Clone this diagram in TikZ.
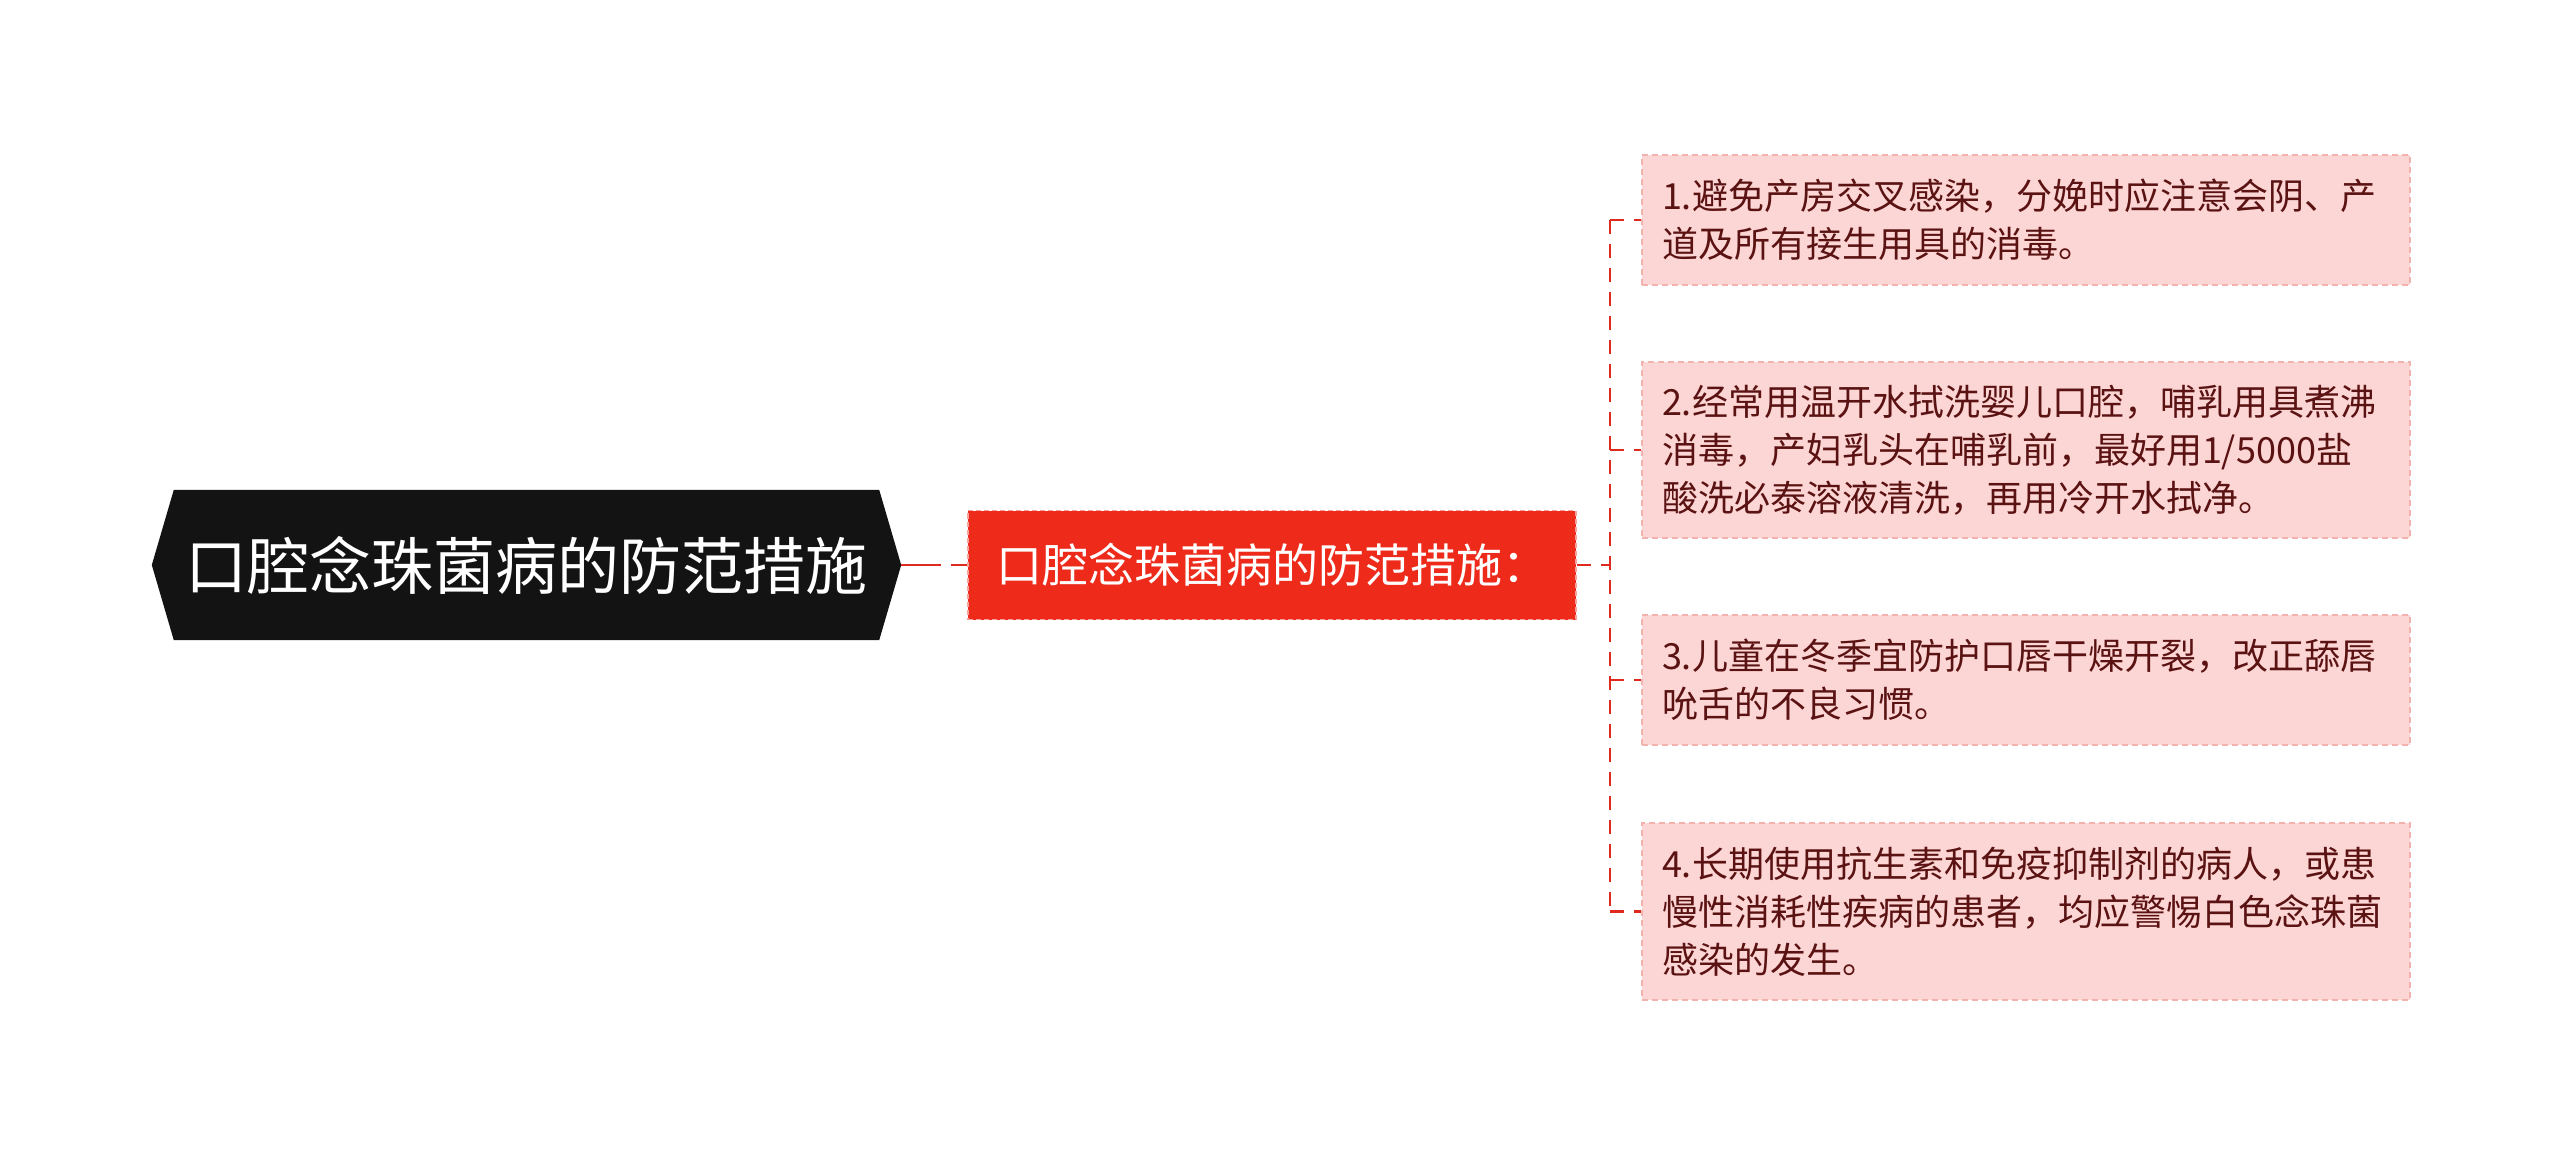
\documentclass[tikz,border=0pt]{standalone}
\usepackage{fontspec}
\newfontfamily\cjk{Noto Sans CJK SC}
\pgfdeclarelayer{bg}
\pgfsetlayers{bg,main}
\definecolor{rootbg}{HTML}{131313}
\definecolor{midred}{HTML}{EE2A1B}
\definecolor{midline}{HTML}{F7A39B}
\definecolor{leafbg}{HTML}{FCD6D4}
\definecolor{leafline}{HTML}{F2B3AF}
\definecolor{leaftext}{HTML}{5A1212}
\definecolor{conn}{HTML}{DE2A1F}
\tikzset{
  rootnode/.style={minimum width=749pt, minimum height=150pt, inner sep=0pt, text=white,
    font=\cjk\fontsize{62}{74}\selectfont},
  midnode/.style={minimum width=608pt, minimum height=109pt, inner sep=0pt, text=white,
    fill=midred, draw=midline, line width=1.5pt, dash pattern=on 5pt off 3pt,
    font=\cjk\fontsize{46}{56}\selectfont},
  leafnode/.style={minimum width=768pt, text width=728pt, inner xsep=20pt, inner ysep=0pt,
    align=left, fill=leafbg, draw=leafline, line width=1.5pt, dash pattern=on 6pt off 4pt,
    text=leaftext, font=\cjk\fontsize{36}{48}\selectfont},
  connline/.style={draw=conn, line width=2.5pt, dash pattern=on 14pt off 10pt}
}
\begin{document}
\begin{tikzpicture}[x=1pt,y=-1pt]
\useasboundingbox (0,0) rectangle (2560,1155);
\begin{pgfonlayer}{bg}
\fill[white] (0,0) rectangle (2560,1155);
\end{pgfonlayer}

\node[rootnode] (root) at (526.5,565) {口腔念珠菌病的防范措施};
\begin{pgfonlayer}{bg}
\fill[rootbg] (root.west) -- ([xshift=22pt]root.north west) -- ([xshift=-22pt]root.north east)
  -- (root.east) -- ([xshift=-22pt]root.south east) -- ([xshift=22pt]root.south west) -- cycle;
\end{pgfonlayer}

\node[midnode] (mid) at (1272,565) {口腔念珠菌病的防范措施：};

\node[leafnode, minimum height=130pt] (l1) at (2026,220) {1.避免产房交叉感染，分娩时应注意会阴、产\\道及所有接生用具的消毒。};
\node[leafnode, minimum height=176pt] (l2) at (2026,450) {2.经常用温开水拭洗婴儿口腔，哺乳用具煮沸\\消毒，产妇乳头在哺乳前，最好用1/5000盐\\酸洗必泰溶液清洗，再用冷开水拭净。};
\node[leafnode, minimum height=130pt] (l3) at (2026,680) {3.儿童在冬季宜防护口唇干燥开裂，改正舔唇\\吮舌的不良习惯。};
\node[leafnode, minimum height=177pt] (l4) at (2026,911.5) {4.长期使用抗生素和免疫抑制剂的病人，或患\\慢性消耗性疾病的患者，均应警惕白色念珠菌\\感染的发生。};

\coordinate (jx) at (1610,565);
\draw[connline, dash pattern=on 40pt off 10pt] (root.east) -- (mid.west);
\draw[connline] (mid.east) -- (jx);
\draw[connline] (jx |- l1.west) -- (jx |- l4.west);
\draw[connline] (jx |- l1.west) -- (l1.west);
\draw[connline] (jx |- l2.west) -- (l2.west);
\draw[connline] (jx |- l3.west) -- (l3.west);
\draw[connline] (jx |- l4.west) -- (l4.west);
\end{tikzpicture}
\end{document}
